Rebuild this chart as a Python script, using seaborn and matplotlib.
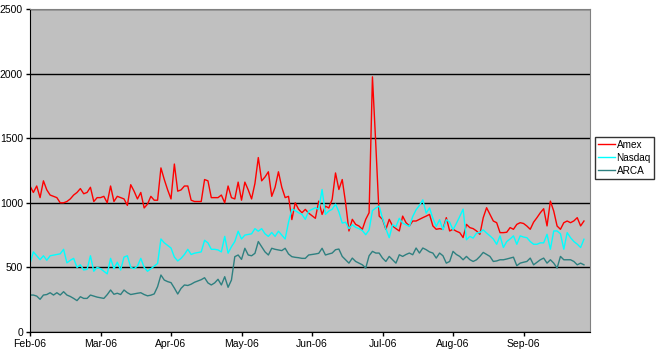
import pandas as pd
import matplotlib
matplotlib.use("Agg")
import matplotlib.pyplot as plt
import seaborn as sns

# daily volumes, Feb-06 .. Sep-06 (trading days)
amex = [1130, 1080, 1130, 1040, 1170, 1100, 1060, 1050, 1040, 1000,
        1000, 1010, 1030, 1060, 1080, 1110, 1070, 1080, 1120, 1010,
        1040, 1040, 1050, 1000, 1130, 1010, 1050, 1040, 1030, 980,
        1140, 1090, 1030, 1080, 960, 990, 1050, 1020, 1020, 1270,
        1180, 1100, 1030, 1300, 1090, 1100, 1130, 1130, 1020, 1010,
        1010, 1010, 1180, 1170, 1040, 1040, 1040, 1060, 1000, 1130,
        1040, 1030, 1160, 1020, 1160, 1100, 1030, 1150, 1350, 1170,
        1200, 1240, 1050, 1120, 1240, 1120, 1040, 1050, 870, 1000,
        950, 923, 949, 920, 900, 880, 1013, 910, 974, 960,
        1026, 1231, 1103, 1180, 1000, 782, 872, 833, 820, 795,
        872, 923, 1975, 1450,
        897, 872, 795, 872, 821, 800, 782, 897, 846, 821,
        859, 859, 872, 885, 897, 910, 821, 795, 800, 795,
        885, 782, 795, 780, 769, 731, 833, 808, 800, 782,
        756, 885, 962, 910, 859, 846, 769, 769, 772, 808,
        795, 833, 846, 840, 820, 795, 850, 885, 923, 954,
        821, 1013, 936, 820, 795, 846, 859, 846, 860, 885,
        821, 859]
nasdaq = [530, 620, 590, 560, 590, 555, 590, 595, 600, 605,
          640, 535, 555, 570, 500, 520, 480, 485, 590, 470,
          500, 490, 470, 450, 570, 490, 540, 480, 580, 590,
          500, 490, 510, 570, 500, 470, 490, 510, 530, 720,
          690, 670, 650, 580, 550, 570, 600, 640, 600, 610,
          615, 620, 710, 690, 640, 640, 635, 620, 740, 610,
          660, 700, 780, 720, 750, 755, 760, 800, 780, 800,
          760, 740, 770, 740, 780, 750, 720, 850, 950, 940,
          923, 910, 872, 936, 949, 962, 949, 1103, 910, 936,
          950, 990, 930, 843, 850, 800, 830, 810, 800, 785,
          753, 790, 940, 960, 975, 880, 800, 730, 830, 815,
          880, 843, 830, 817,
          894, 946, 980, 1023, 920, 960, 880, 817, 869, 791,
          869, 850, 791, 840, 894, 951,
          714, 740, 727, 766, 770, 791, 766, 744, 720, 679,
          744, 654, 700, 720, 744, 679, 744, 735, 730, 700,
          679, 679, 690, 690, 756, 641, 782, 782, 760, 641,
          769, 730, 700, 680, 654, 718]
arca = [286, 286, 278, 253, 286, 290, 304, 286, 304, 286,
        312, 286, 275, 260, 243, 273, 260, 260, 286, 278,
        270, 265, 260, 289, 325, 292, 300, 290, 325, 304,
        290, 295, 300, 304, 290, 280, 285, 295, 351, 441,
        402, 390, 382, 340, 294, 338, 364, 360, 370, 385,
        395, 405, 420, 380, 364, 380, 408, 364, 428, 346,
        402, 583, 596, 562, 648, 596, 590, 609, 700, 660,
        620, 596, 648, 640, 635, 630, 648, 604, 583, 578,
        575, 570, 570, 596, 600, 604, 609, 648, 596, 604,
        611, 637, 642, 585, 559, 533, 572, 546, 533, 520,
        495, 590, 624, 611, 611, 572, 546, 585, 559, 533,
        598, 585, 600, 611, 598, 650, 611, 650, 637, 620,
        611, 572, 611, 590, 533, 546, 624, 600, 585, 559,
        585, 560, 546, 559, 585, 616, 600, 585, 546, 550,
        559, 559, 565, 572, 579, 513, 533, 540, 546, 572,
        520, 540, 559, 572, 533, 559, 533, 495, 585, 559,
        559, 559, 546, 520, 533, 520]

months = ['Feb-06', 'Mar-06', 'Apr-06', 'May-06', 'Jun-06', 'Jul-06', 'Aug-06', 'Sep-06']
month_pos = [0, 21, 42, 63, 84, 105, 126, 147]

n = len(amex)
df = pd.DataFrame({
    'day': list(range(n)) * 3,
    'volume': amex + nasdaq + arca,
    'market': ['Amex'] * n + ['Nasdaq'] * n + ['ARCA'] * n,
})

plt.rcParams['font.family'] = ['Liberation Sans', 'DejaVu Sans']

fig = plt.figure(figsize=(6.6, 3.51), dpi=100)
ax = fig.add_axes([30 / 660, 19 / 351, 560 / 660, 323 / 351])

sns.lineplot(data=df, x='day', y='volume', hue='market',
             palette={'Amex': '#ff0000', 'Nasdaq': '#00ffff', 'ARCA': '#2e8080'},
             linewidth=1, ax=ax)

ax.set_facecolor('#c0c0c0')
ax.set_xlim(0, 166.8)
ax.set_ylim(0, 2500)
ax.set_yticks(range(0, 2501, 500))
ax.set_xticks(month_pos)
ax.set_xticklabels(months)
ax.yaxis.grid(True, color='black', linewidth=1)
ax.xaxis.grid(False)
ax.set_axisbelow(True)
ax.set_xlabel('')
ax.set_ylabel('')
ax.tick_params(length=3, width=1, labelsize=7.5, pad=2)

for side in ['left', 'bottom']:
    ax.spines[side].set_color('black')
for side in ['top', 'right']:
    ax.spines[side].set_color('#808080')

leg = ax.legend(loc='center left', bbox_to_anchor=(1.009, 0.54), frameon=True,
                fancybox=False, edgecolor='black', fontsize=7.2,
                handlelength=1.7, handletextpad=0.15, labelspacing=0.3,
                borderpad=0.3, borderaxespad=0)
leg.get_frame().set_linewidth(1)

fig.savefig('out.png', dpi=100)
